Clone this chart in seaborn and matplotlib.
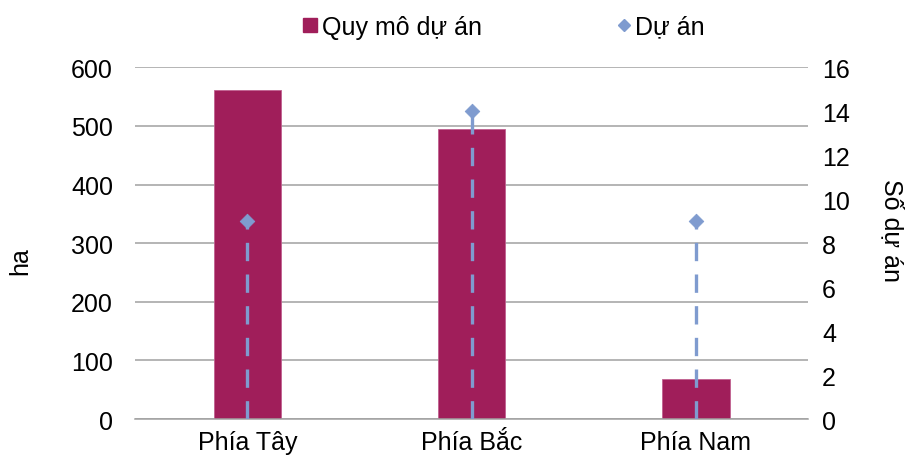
import matplotlib
matplotlib.use("Agg")
import matplotlib.pyplot as plt
import seaborn as sns
import pandas as pd
from matplotlib.lines import Line2D

categories = ["Phía Tây", "Phía Bắc", "Phía Nam"]
area_ha = [561, 494, 68]
projects = [9, 14, 9]

bar_color = "#A01E5A"
pt_color = "#7F9BCF"
grid_color = "#A0A0A0"
FS = 18

sns.set_theme(style="white")
plt.rcParams["font.family"] = ["Liberation Sans", "DejaVu Sans"]
plt.rcParams["font.size"] = FS
plt.rcParams["text.color"] = "black"
plt.rcParams["axes.labelcolor"] = "black"

df = pd.DataFrame({"cat": categories, "area": area_ha, "proj": projects})

fig = plt.figure(figsize=(9.08, 4.64), dpi=100)
ax = fig.add_axes([0.149, 0.0948, 0.741, 0.758])

sns.barplot(data=df, x="cat", y="area", color=bar_color, width=0.3,
            saturation=1, ax=ax, edgecolor="#C06090", linewidth=0.6)
ax.set_ylim(0, 600)
ax.set_yticks(range(0, 601, 100))
ax.set_xlim(-0.5, len(categories) - 0.5)
ax.yaxis.grid(True, color=grid_color, linewidth=1.1)
ax.set_axisbelow(True)
for s in ["top", "left", "right"]:
    ax.spines[s].set_visible(False)
ax.spines["bottom"].set_color(grid_color)
ax.spines["bottom"].set_linewidth(1.1)
ax.set_xlabel("")
ax.set_ylabel("ha", fontsize=FS, labelpad=28, color="black")
ax.yaxis.label.set_y(0.452)
ax.tick_params(axis="y", length=0, labelsize=FS, pad=16, colors="black")
ax.tick_params(axis="x", which="major", length=0, labelsize=FS, pad=8, colors="black")
ax.set_xticks([i - 0.5 for i in range(len(categories) + 1)], minor=True)
ax.tick_params(axis="x", which="minor", length=7, width=1.1, color=grid_color, direction="out")

ax2 = ax.twinx()
ax2.vlines(range(len(categories)), 0, df["proj"], colors=pt_color,
           linewidth=2.4, linestyles=(0, (5.5, 4)))
sns.scatterplot(x=range(len(categories)), y=df["proj"], marker="D", s=55,
                color=pt_color, edgecolor=pt_color, ax=ax2, zorder=5)
ax2.set_ylim(0, 16)
ax2.set_yticks(range(0, 17, 2))
ax2.set_xlim(-0.5, len(categories) - 0.5)
for s in ["top", "left", "right", "bottom"]:
    ax2.spines[s].set_visible(False)
ax2.tick_params(axis="y", length=0, labelsize=FS, pad=10, colors="black")
ax2.set_ylabel("Số dự án", fontsize=FS, rotation=270, labelpad=39, color="black")
ax2.yaxis.label.set_y(0.54)

handles = [
    Line2D([0], [0], marker="s", color="none", markerfacecolor=bar_color,
           markeredgecolor=bar_color, markersize=10),
    Line2D([0], [0], marker="D", color="none", markerfacecolor=pt_color,
           markeredgecolor=pt_color, markersize=6.5),
]
fig.legend(handles, ["Quy mô dự án", "Dự án"], loc="upper center",
           bbox_to_anchor=(0.555, 1.015), ncol=2, frameon=False, fontsize=FS,
           handlelength=0.55, handletextpad=0.2, columnspacing=5.4)

fig.savefig("out.png", dpi=100)
